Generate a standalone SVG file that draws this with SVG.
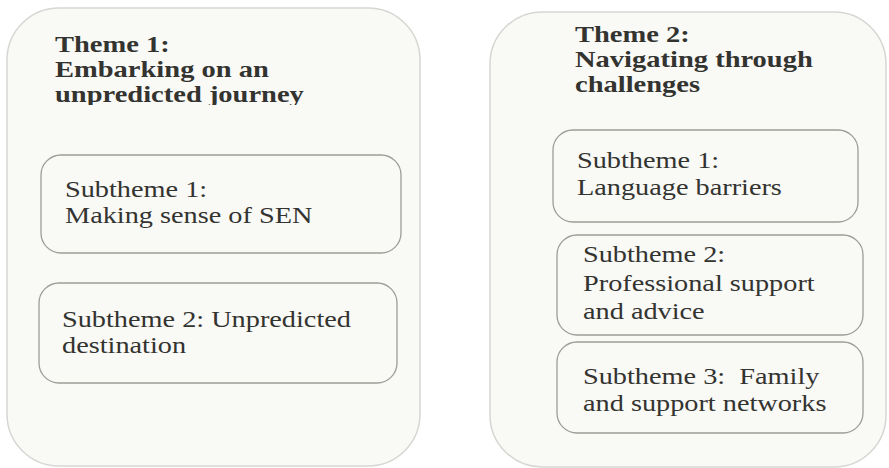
<svg xmlns="http://www.w3.org/2000/svg" width="889" height="468" viewBox="0 0 889 468">
<style>
.outer{fill:#f9f9f6;stroke:#d6d6d3;stroke-width:1.5}
.inner{fill:#f9f9f6;stroke:#9d9d98;stroke-width:1.3}
.t{font-family:"Liberation Serif","Times New Roman",serif;fill:#333330}
.b{font-weight:bold;font-size:23px}
.r{font-size:23px}
</style>
<defs>
<clipPath id="clipT1"><rect x="0" y="0" width="440" height="105"/></clipPath>
</defs>
<rect width="889" height="468" fill="#ffffff"/>
<g id="theme1">
<rect class="outer" x="7" y="8" width="413" height="458" rx="52"/>
<g clip-path="url(#clipT1)">
<text class="t b" transform="translate(55,52) scale(1.24,1)">Theme 1:</text>
<text class="t b" transform="translate(55,77) scale(1.24,1)">Embarking on an</text>
<text class="t b" transform="translate(55,102) scale(1.24,1)">unpredicted journey</text>
</g>
</g>
<g id="t1sub1">
<rect class="inner" x="41" y="155" width="360" height="98" rx="20"/>
<text class="t r" transform="translate(65,197) scale(1.23,1)">Subtheme 1:</text>
<text class="t r" transform="translate(65,223) scale(1.23,1)">Making sense of SEN</text>
</g>
<g id="t1sub2">
<rect class="inner" x="39" y="283" width="358" height="100" rx="20"/>
<text class="t r" transform="translate(62,327) scale(1.23,1)">Subtheme 2: Unpredicted</text>
<text class="t r" transform="translate(62,353) scale(1.23,1)">destination</text>
</g>
<g id="theme2">
<rect class="outer" x="490" y="12" width="396" height="455" rx="52"/>
<text class="t b" transform="translate(575,42) scale(1.24,1)">Theme 2:</text>
<text class="t b" transform="translate(575,67) scale(1.24,1)">Navigating through</text>
<text class="t b" transform="translate(575,92) scale(1.24,1)">challenges</text>
</g>
<g id="t2sub1">
<rect class="inner" x="553" y="130" width="305" height="92" rx="20"/>
<text class="t r" transform="translate(577,168) scale(1.23,1)">Subtheme 1:</text>
<text class="t r" transform="translate(577,195) scale(1.23,1)">Language barriers</text>
</g>
<g id="t2sub2">
<rect class="inner" x="557" y="235" width="306" height="100" rx="20"/>
<text class="t r" transform="translate(583,262) scale(1.23,1)">Subtheme 2:</text>
<text class="t r" transform="translate(583,291) scale(1.23,1)">Professional support</text>
<text class="t r" transform="translate(583,319) scale(1.23,1)">and advice</text>
</g>
<g id="t2sub3">
<rect class="inner" x="557" y="342" width="306" height="91" rx="20"/>
<text class="t r" transform="translate(583,384) scale(1.23,1)" xml:space="preserve">Subtheme 3:  Family</text>
<text class="t r" transform="translate(583,411) scale(1.23,1)">and support networks</text>
</g>
<g id="connectors"></g>
</svg>
